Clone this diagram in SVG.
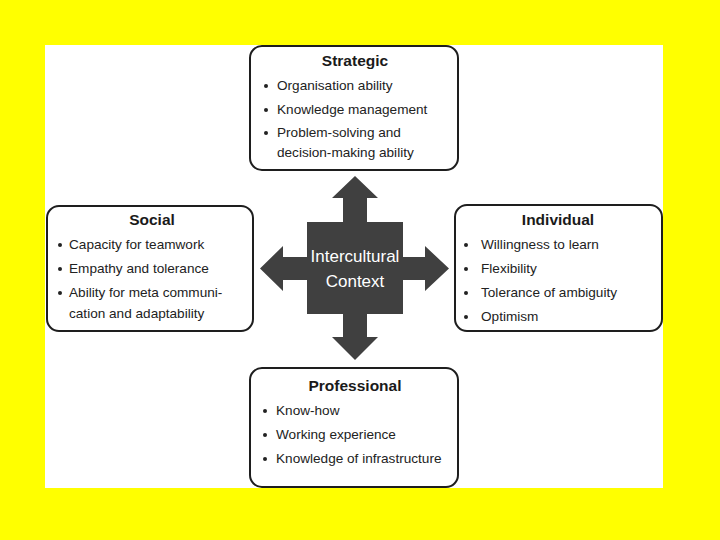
<svg xmlns="http://www.w3.org/2000/svg" width="720" height="540" viewBox="0 0 720 540">
<style>
.box{fill:#ffffff;stroke:#1e1e1e;stroke-width:2}
.h{font-family:"Liberation Sans",Arial,sans-serif;font-weight:bold;font-size:15.5px;fill:#1a1a1a;text-anchor:middle}
.t{font-family:"Liberation Sans",Arial,sans-serif;font-size:13.6px;fill:#222}
.b{fill:#222}
.c{font-family:"Liberation Sans",Arial,sans-serif;font-size:17px;fill:#ffffff;text-anchor:middle}
.arr{fill:#404040}
</style>
<rect x="0" y="0" width="720" height="540" fill="#ffff00"/>
<rect x="45" y="45" width="618" height="443" fill="#ffffff"/>
<g id="connectors">
<polygon class="arr" points="343,222 343,198 332,198 355,176 378,198 367,198 367,222"/>
<polygon class="arr" points="343,314 343,337 332,337 355,360 378,337 367,337 367,314"/>
<polygon class="arr" points="307,257 283,257 283,246 260,268.5 283,291 283,280 307,280"/>
<polygon class="arr" points="403,257 425,257 425,246 449,268.5 425,291 425,280 403,280"/>
</g>
<g id="center">
<rect class="arr" x="307" y="222" width="96" height="92"/>
<text class="c" x="355" y="262">Intercultural</text>
<text class="c" x="355" y="287">Context</text>
</g>
<g id="strategic">
<rect class="box" x="250" y="46" width="208" height="124" rx="12"/>
<text class="h" x="355" y="66">Strategic</text>
<circle class="b" cx="266" cy="86" r="2"/>
<text class="t" x="277" y="90">Organisation ability</text>
<circle class="b" cx="266" cy="110" r="2"/>
<text class="t" x="277" y="114">Knowledge management</text>
<circle class="b" cx="266" cy="133" r="2"/>
<text class="t" x="277" y="137">Problem-solving and</text>
<text class="t" x="277" y="157">decision-making ability</text>
</g>
<g id="social">
<rect class="box" x="47" y="206" width="206" height="125" rx="12"/>
<text class="h" x="152" y="225">Social</text>
<circle class="b" cx="60" cy="245" r="2"/>
<text class="t" x="69" y="249">Capacity for teamwork</text>
<circle class="b" cx="60" cy="269" r="2"/>
<text class="t" x="69" y="273">Empathy and tolerance</text>
<circle class="b" cx="60" cy="293" r="2"/>
<text class="t" x="69" y="297">Ability for meta communi-</text>
<text class="t" x="69" y="318">cation and adaptability</text>
</g>
<g id="individual">
<rect class="box" x="455" y="205" width="207" height="126" rx="12"/>
<text class="h" x="558" y="225">Individual</text>
<circle class="b" cx="466" cy="245" r="2"/>
<text class="t" x="481" y="249">Willingness to learn</text>
<circle class="b" cx="466" cy="269" r="2"/>
<text class="t" x="481" y="273">Flexibility</text>
<circle class="b" cx="466" cy="293" r="2"/>
<text class="t" x="481" y="297">Tolerance of ambiguity</text>
<circle class="b" cx="466" cy="317" r="2"/>
<text class="t" x="481" y="321">Optimism</text>
</g>
<g id="professional">
<rect class="box" x="250" y="368" width="208" height="119" rx="12"/>
<text class="h" x="355" y="391">Professional</text>
<circle class="b" cx="265" cy="411" r="2"/>
<text class="t" x="276" y="415">Know-how</text>
<circle class="b" cx="265" cy="435" r="2"/>
<text class="t" x="276" y="439">Working experience</text>
<circle class="b" cx="265" cy="459" r="2"/>
<text class="t" x="276" y="463">Knowledge of infrastructure</text>
</g>
</svg>
